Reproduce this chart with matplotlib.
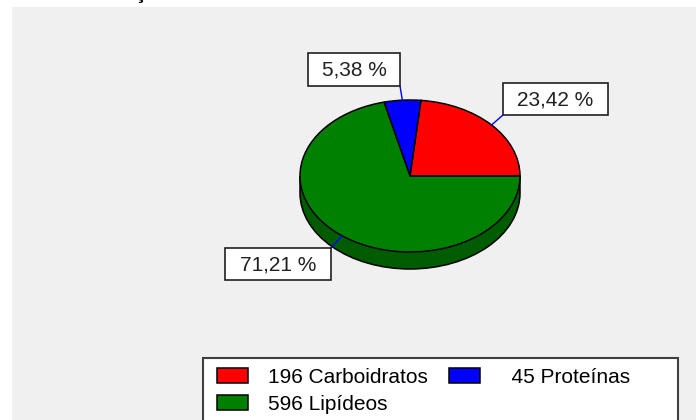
import numpy as np
import matplotlib
matplotlib.use('Agg')
import matplotlib.pyplot as plt
from matplotlib.patches import Rectangle, Arc

plt.rcParams['font.family'] = ['Liberation Sans', 'DejaVu Sans']

# Data
categories = ['Carboidratos', 'Proteínas', 'Lipídeos']
values = [196, 45, 596]
pct_labels = ['23,42 %', '5,38 %', '71,21 %']
colors = ['#ff0000', '#0000ff', '#008000']
side_colors = ['#800000', '#000080', '#005c00']

W, H = 696, 420
fig = plt.figure(figsize=(W / 100, H / 100), dpi=100, facecolor='white')


def fx(x):
    return x / W


def fy(y):
    return 1 - y / H


# grey panel behind the chart
fig.patches.append(Rectangle((fx(12), 0), fx(W - 12), 1 - 7 / H, transform=fig.transFigure,
                             facecolor='#f0f0f0', edgecolor='none', zorder=-5))

# title, mostly cut off at the top of the picture
fig.text(fx(51), 1 + 1 / H, 'Distribuição', fontsize=15, fontweight='bold', va='baseline')

# Pie (flattened ellipse with a bit of depth)
cx, cy, rx, ry, depth = 410, 176, 110, 76, 17
d = depth / ry
ax = fig.add_axes([fx(cx - rx), fy(cy + ry + depth), fx(2 * rx), (2 * ry + depth) / H])
ax.axis('off')

wedges, _ = ax.pie(values, colors=colors, startangle=0, counterclock=True,
                   wedgeprops=dict(edgecolor='black', linewidth=1.1, zorder=3, clip_on=False))
# side of the "disc"
ax.pie(values, colors=side_colors, startangle=0, center=(0, -d),
       wedgeprops=dict(linewidth=0, zorder=1, clip_on=False))
ax.add_patch(Rectangle((-1, -d), 2, d, facecolor=side_colors[2], edgecolor='none', zorder=1))
ax.add_patch(Arc((0, -d), 2, 2, theta1=180, theta2=360, color='black', lw=1.1, zorder=2,
                 clip_on=False))
ax.vlines([-1, 1], -d, 0, color='black', lw=1.1, zorder=2, clip_on=False)
ax.set_aspect('auto')
ax.set_xlim(-1, 1)
ax.set_ylim(-1 - d, 1)

# percentage labels with leader lines
ov = fig.add_axes([0, 0, 1, 1], facecolor='none')
ov.set_xlim(0, W)
ov.set_ylim(H, 0)
ov.axis('off')

boxes = [(503, 83, 105, 32), (308, 53, 92, 33), (225, 248, 106, 32)]
corners = [(503, 115), (400, 86), (331, 248)]
for w, lab, (bx, by, bw, bh), (kx, ky) in zip(wedges, pct_labels, boxes, corners):
    mid = np.deg2rad((w.theta1 + w.theta2) / 2)
    ax.annotate('', xy=(np.cos(mid), np.sin(mid)), xycoords='data',
                xytext=(kx, H - ky), textcoords='figure pixels',
                arrowprops=dict(arrowstyle='-', color='#0000ff', lw=1, shrinkA=0, shrinkB=0),
                annotation_clip=False)
    ov.add_patch(Rectangle((bx, by), bw, bh, facecolor='white', edgecolor='#202020', lw=1.2))
    ov.text(bx + bw / 2, by + bh / 2 + 1, lab, fontsize=15, color='#202020',
            ha='center', va='center')

# legend
ov.add_patch(Rectangle((203, 358), 475, 80, facecolor='white', edgecolor='#404040', lw=1.5))
leg_labels = ['  ' * (3 - len(str(v))) + f'{v} {c}' for v, c in zip(values, categories)]
order = [0, 2, 1]
fig.legend([wedges[i] for i in order], [leg_labels[i] for i in order],
           ncol=2, loc='upper left', bbox_to_anchor=(fx(217), fy(368)),
           frameon=False, fontsize=15, handlelength=1.49, handleheight=0.72,
           handletextpad=0.96, columnspacing=1.01, borderpad=0, borderaxespad=0,
           labelspacing=0.39)

fig.savefig('out.png', dpi=100)
